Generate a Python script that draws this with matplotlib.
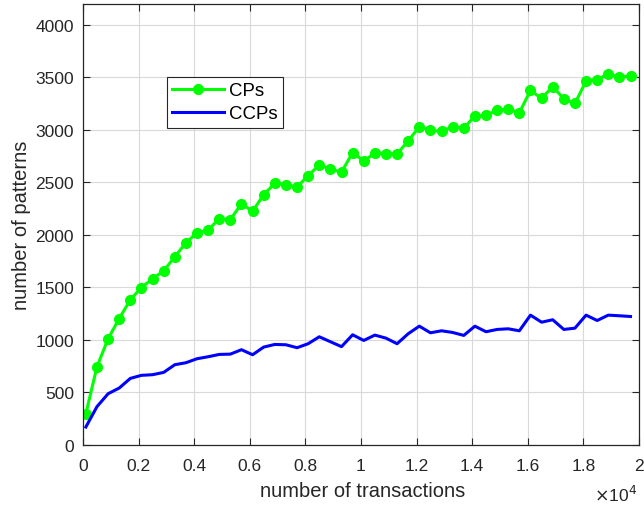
import numpy as np
import matplotlib.pyplot as plt
from matplotlib.ticker import FuncFormatter

# ====== Data =======
n_trans = [100 + 400 * k for k in range(50)]
cps = [298, 745, 1011, 1204, 1382, 1499, 1582, 1658, 1791, 1924,
       2019, 2045, 2155, 2145, 2297, 2224, 2383, 2491, 2478, 2456,
       2564, 2665, 2627, 2597, 2784, 2703, 2779, 2773, 2772, 2894,
       3030, 2995, 2985, 3030, 3017, 3131, 3137, 3188, 3198, 3163,
       3375, 3299, 3410, 3296, 3251, 3464, 3479, 3531, 3502, 3511]
ccps = [171, 365, 488, 542, 634, 663, 669, 691, 764, 783,
        821, 840, 862, 865, 907, 859, 932, 957, 954, 926,
        964, 1030, 983, 936, 1049, 995, 1046, 1017, 964, 1059,
        1131, 1068, 1087, 1071, 1043, 1131, 1078, 1100, 1106, 1087,
        1236, 1169, 1192, 1100, 1112, 1236, 1185, 1236, 1230, 1223]

plt.rcParams['font.family'] = ['Liberation Sans', 'DejaVu Sans']
dark = (0.15, 0.15, 0.15)

fig = plt.figure(figsize=(6.44, 5.06), dpi=100)
ax = fig.add_axes([0.129, 0.1186, 0.863, 0.872])

ax.plot(n_trans, cps, color=(0, 1, 0), lw=2.2, marker='o', markersize=7, label='CPs')
ax.plot(n_trans, ccps, color=(0, 0, 1), lw=2.2, label='CCPs')

ax.set_xlim(0, 20000)
ax.set_ylim(0, 4200)
ax.set_xticks(np.arange(0, 20001, 2000))
ax.set_yticks(np.arange(0, 4001, 500))
ax.xaxis.set_major_formatter(FuncFormatter(lambda v, p: '%g' % (v / 1e4)))

ax.grid(True, color=(0.85, 0.85, 0.85), lw=0.8)
ax.set_axisbelow(True)
ax.tick_params(direction='in', top=True, right=True, labelsize=12.5,
               colors=dark, length=5, width=0.8)
ax.tick_params(axis='x', pad=9.5)
ax.tick_params(axis='y', pad=6.5)
for s in ax.spines.values():
    s.set_color(dark)
    s.set_linewidth(0.9)

ax.set_xlabel('number of transactions', fontsize=14.5, color=dark, va='center')
ax.set_ylabel('number of patterns', fontsize=14.5, color=dark, va='center')
ax.xaxis.set_label_coords(0.503, -0.104)
ax.yaxis.set_label_coords(-0.1115, 0.5)
ax.text(0.9964, -0.112, r'$\times$10$^4$', transform=ax.transAxes, ha='right',
        va='center', fontsize=12.5, color=dark)

leg = ax.legend(loc='upper left', bbox_to_anchor=(0.1505, 0.8346), fontsize=13.4,
                frameon=True, fancybox=False, edgecolor=dark, framealpha=1,
                borderpad=0.3, handlelength=2.8, handletextpad=0.22,
                labelspacing=0.31, borderaxespad=0)
leg.get_frame().set_linewidth(0.8)

fig.savefig('out.png', dpi=100)
